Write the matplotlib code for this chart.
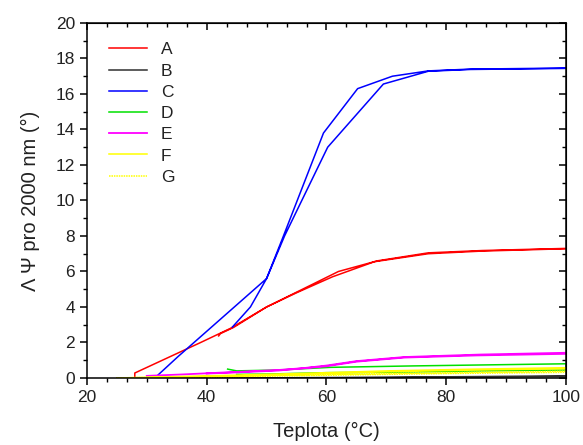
import matplotlib
matplotlib.use("Agg")
import matplotlib.pyplot as plt
from matplotlib.ticker import AutoMinorLocator, MultipleLocator

plt.rcParams['font.family'] = ['Liberation Sans', 'DejaVu Sans']

# heating branch followed by cooling branch for each sample
a_x = [28, 28, 39, 44, 50, 56, 62, 68.5, 77, 86, 100,
       100, 86, 77, 68, 61, 55, 50, 44.5, 42.3, 42]
a_y = [0.05, 0.28, 2.0, 2.8, 4.0, 5.0, 6.0, 6.6, 7.05, 7.18, 7.3,
       7.28, 7.15, 7.0, 6.55, 5.7, 4.8, 4.0, 2.85, 2.5, 2.37]

b_x = [25, 50, 70, 85, 100, 100, 85, 70, 50]
b_y = [0.0, 0.01, 0.04, 0.08, 0.12, 0.08, 0.05, 0.02, 0.0]

c_x = [31.5, 35.2, 50, 52.7, 59.5, 65.2, 71, 77, 84, 100,
       100, 84, 77, 69.5, 60.2, 53, 50, 47.3, 44.3]
c_y = [0.05, 1.2, 5.6, 7.9, 13.8, 16.3, 17.0, 17.3, 17.4, 17.46,
       17.44, 17.38, 17.28, 16.56, 13.0, 8.0, 5.6, 4.0, 2.87]

d_x = [43.5, 45, 52, 60.7, 74.5, 100, 100, 85.7, 70, 60, 50, 45]
d_y = [0.5, 0.4, 0.45, 0.6, 0.68, 0.8, 0.45, 0.4, 0.32, 0.3, 0.22, 0.2]

e_x = [30, 36, 43.5, 52, 56, 60, 65, 73, 85.7, 100,
       100, 85, 73, 65, 60, 52, 44, 40]
e_y = [0.12, 0.2, 0.32, 0.45, 0.55, 0.7, 0.95, 1.18, 1.32, 1.42,
       1.36, 1.27, 1.15, 0.92, 0.66, 0.42, 0.3, 0.25]

f_x = [25, 40, 55, 70, 85, 100, 100, 85, 70, 55, 40, 30]
f_y = [0.0, 0.12, 0.25, 0.4, 0.5, 0.58, 0.52, 0.45, 0.35, 0.2, 0.08, 0.02]

g_x = [25, 40, 60, 80, 100, 100, 80, 60, 40]
g_y = [0.0, 0.08, 0.2, 0.3, 0.38, 0.32, 0.25, 0.15, 0.05]

fig = plt.figure(figsize=(5.83, 4.45), dpi=100)
ax = fig.add_axes([0.149, 0.1506, 0.822, 0.7978])

ax.plot(a_x, a_y, color='#ff0000', lw=1.1, label='A')
ax.plot(b_x, b_y, color='#303030', lw=1.1, label='B')
ax.plot(c_x, c_y, color='#0000ff', lw=1.1, label='C')
ax.plot(d_x, d_y, color='#00e000', lw=1.1, label='D')
ax.plot(e_x, e_y, color='#ff00ff', lw=1.3, label='E')
ax.plot(f_x, f_y, color='#ffff00', lw=1.1, label='F')
ax.plot(g_x, g_y, color='#ffff00', lw=1.1, ls=(0, (1, 0.6)), label='G')

ax.set_xlim(20, 100)
ax.set_ylim(0, 20)
ax.xaxis.set_major_locator(MultipleLocator(20))
ax.yaxis.set_major_locator(MultipleLocator(2))
ax.xaxis.set_minor_locator(AutoMinorLocator(6))
ax.yaxis.set_minor_locator(AutoMinorLocator(2))
ax.tick_params(which='major', direction='out', length=5, width=1.1,
               labelsize=12.5, labelcolor='#222222')
ax.tick_params(which='minor', direction='out', length=3, width=1.0)
for s in ax.spines.values():
    s.set_linewidth(1.1)

# mirrored ticks on top and right point inwards
top = ax.secondary_xaxis('top')
top.xaxis.set_major_locator(MultipleLocator(20))
top.xaxis.set_minor_locator(AutoMinorLocator(6))
top.tick_params(which='major', direction='in', length=5, width=1.1, labeltop=False)
top.tick_params(which='minor', direction='in', length=3, width=1.0)
right = ax.secondary_yaxis('right')
right.yaxis.set_major_locator(MultipleLocator(2))
right.yaxis.set_minor_locator(AutoMinorLocator(2))
right.tick_params(which='major', direction='in', length=5, width=1.1, labelright=False)
right.tick_params(which='minor', direction='in', length=3, width=1.0)

ax.set_xlabel('Teplota (°C)', fontsize=14.5, labelpad=12, color='#222222')
ax.set_ylabel('Λ Ψ pro 2000 nm (°)', fontsize=14.5, labelpad=11, color='#222222')

ax.legend(loc='upper left', frameon=False, fontsize=12.5, handlelength=2.2,
          handletextpad=0.8, labelspacing=0.35, borderaxespad=0.3,
          bbox_to_anchor=(0.02, 0.98), labelcolor='#222222')

fig.savefig('out.png', dpi=100)
